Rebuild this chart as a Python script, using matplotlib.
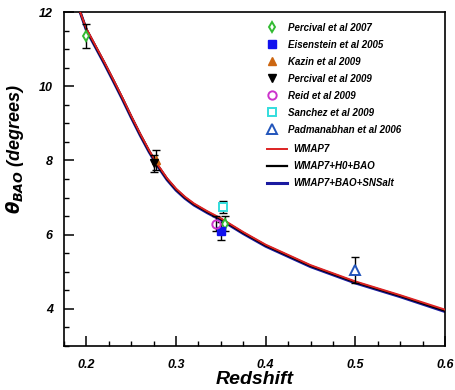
import numpy as np
import matplotlib.pyplot as plt
from matplotlib.ticker import MultipleLocator

# --------------------------------------------------
# BAO angular scale vs redshift
# --------------------------------------------------

# model curves
z_model = [0.193, 0.20, 0.21, 0.22, 0.23, 0.24, 0.25, 0.26, 0.27, 0.28,
           0.29, 0.30, 0.31, 0.32, 0.335, 0.35, 0.375, 0.40, 0.45, 0.50,
           0.55, 0.60]
theta_wmap7 = [12.0, 11.55, 11.10, 10.65, 10.18, 9.70, 9.20, 8.72, 8.27, 7.87,
               7.52, 7.24, 7.02, 6.84, 6.63, 6.44, 6.07, 5.73, 5.18, 4.74,
               4.37, 3.98]
theta_h0bao = [12.0, 11.53, 11.08, 10.63, 10.16, 9.68, 9.18, 8.70, 8.25, 7.85,
               7.50, 7.22, 7.00, 6.82, 6.61, 6.42, 6.05, 5.71, 5.16, 4.72,
               4.35, 3.95]
theta_snsalt = [12.0, 11.51, 11.06, 10.61, 10.14, 9.66, 9.16, 8.68, 8.23, 7.83,
                7.48, 7.20, 6.98, 6.80, 6.59, 6.40, 6.03, 5.69, 5.14, 4.70,
                4.33, 3.93]

# measurements: redshift, theta, error
perc07_z = [0.20, 0.355]
perc07_t = [11.35, 6.30]
perc07_e = [0.33, 0.20]

eis05_z = [0.35]
eis05_t = [6.10]
eis05_e = [0.23]

kazin_z = [0.278]
kazin_t = [8.00]
kazin_e = [0.27]

perc09_z = [0.275]
perc09_t = [7.92]
perc09_e = [0.22]

reid_z = [0.345]
reid_t = [6.30]
reid_e = [0.20]

sanchez_z = [0.352]
sanchez_t = [6.75]
sanchez_e = [0.16]

padm_z = [0.50]
padm_t = [5.05]
padm_e = [0.35]

plt.rcParams['font.family'] = ['Liberation Sans', 'DejaVu Sans']
plt.rcParams['font.weight'] = 'bold'
plt.rcParams['font.style'] = 'italic'

fig = plt.figure(figsize=(4.55, 3.9), dpi=100)
ax = fig.add_axes([0.1407, 0.1128, 0.8373, 0.8564])

l_sns, = ax.plot(z_model, theta_snsalt, color='#1a1aa0', lw=2.2, zorder=2)
l_h0, = ax.plot(z_model, theta_h0bao, color='black', lw=1.6, zorder=3)
l_w7, = ax.plot(z_model, theta_wmap7, color='#dd2222', lw=1.4, zorder=4)

eb = dict(fmt='none', ecolor='black', elinewidth=1.0, capsize=3,
          capthick=1.0, zorder=5)
for zz, tt, ee in [(perc07_z, perc07_t, perc07_e), (eis05_z, eis05_t, eis05_e),
                   (kazin_z, kazin_t, kazin_e), (perc09_z, perc09_t, perc09_e),
                   (reid_z, reid_t, reid_e), (sanchez_z, sanchez_t, sanchez_e),
                   (padm_z, padm_t, padm_e)]:
    ax.errorbar(zz, tt, yerr=ee, **eb)

h1, = ax.plot(perc07_z, perc07_t, 'd', ms=5, mfc='white', mec='#33bb33',
              mew=1.4, ls='none', zorder=6)
h2, = ax.plot(eis05_z, eis05_t, 's', ms=5.5, color='#1111ee', ls='none', zorder=6)
h3, = ax.plot(kazin_z, kazin_t, '^', ms=5.5, color='#cc6611', ls='none', zorder=6)
h4, = ax.plot(perc09_z, perc09_t, 'v', ms=5.5, color='black', ls='none', zorder=6)
h5, = ax.plot(reid_z, reid_t, 'o', ms=6, mfc='none', mec='#cc33cc',
              mew=1.4, ls='none', zorder=6)
h6, = ax.plot(sanchez_z, sanchez_t, 's', ms=6, mfc='white', mec='#33dddd',
              mew=1.4, ls='none', zorder=6)
h7, = ax.plot(padm_z, padm_t, '^', ms=6.5, mfc='white', mec='#2255bb',
              mew=1.4, ls='none', zorder=6)

# two legends: data points, then model curves
leg1 = ax.legend([h1, h2, h3, h4, h5, h6, h7],
                 ['Percival et al 2007', 'Eisenstein et al 2005',
                  'Kazin et al 2009', 'Percival et al 2009', 'Reid et al 2009',
                  'Sanchez et al 2009', 'Padmanabhan et al 2006'],
                 loc='upper left', bbox_to_anchor=(0.533, 0.968),
                 frameon=False, fontsize=7, handlelength=1.0,
                 handletextpad=1.16, labelspacing=0.72, borderaxespad=0,
                 borderpad=0)
ax.add_artist(leg1)
ax.legend([l_w7, l_h0, l_sns], ['WMAP7', 'WMAP7+H0+BAO', 'WMAP7+BAO+SNSalt'],
          loc='upper left', bbox_to_anchor=(0.533, 0.605),
          frameon=False, fontsize=7, handlelength=2.06, handletextpad=0.62,
          labelspacing=0.72, borderaxespad=0, borderpad=0)

ax.set_xlim(0.175, 0.6)
ax.set_ylim(3, 12)
ax.xaxis.set_major_locator(MultipleLocator(0.1))
ax.xaxis.set_minor_locator(MultipleLocator(0.025))
ax.yaxis.set_major_locator(MultipleLocator(2))
ax.yaxis.set_minor_locator(MultipleLocator(0.5))
ax.tick_params(which='major', direction='in', length=7, width=1.1,
               labelsize=9)
ax.tick_params(axis='x', which='major', pad=9)
ax.tick_params(axis='y', which='major', pad=8)
ax.tick_params(which='minor', direction='in', length=3.5, width=1.0)
for s in ax.spines.values():
    s.set_linewidth(1.2)

ax.set_xlabel('Redshift', fontsize=14, fontweight='bold', style='italic')
ax.set_ylabel(r'$\theta_{BAO}$ (degrees)', fontsize=13,
              fontweight='bold', style='italic')
ax.xaxis.set_label_coords(0.5, -0.075)
ax.yaxis.set_label_coords(-0.10, 0.59)

fig.savefig('out.png', dpi=100)
